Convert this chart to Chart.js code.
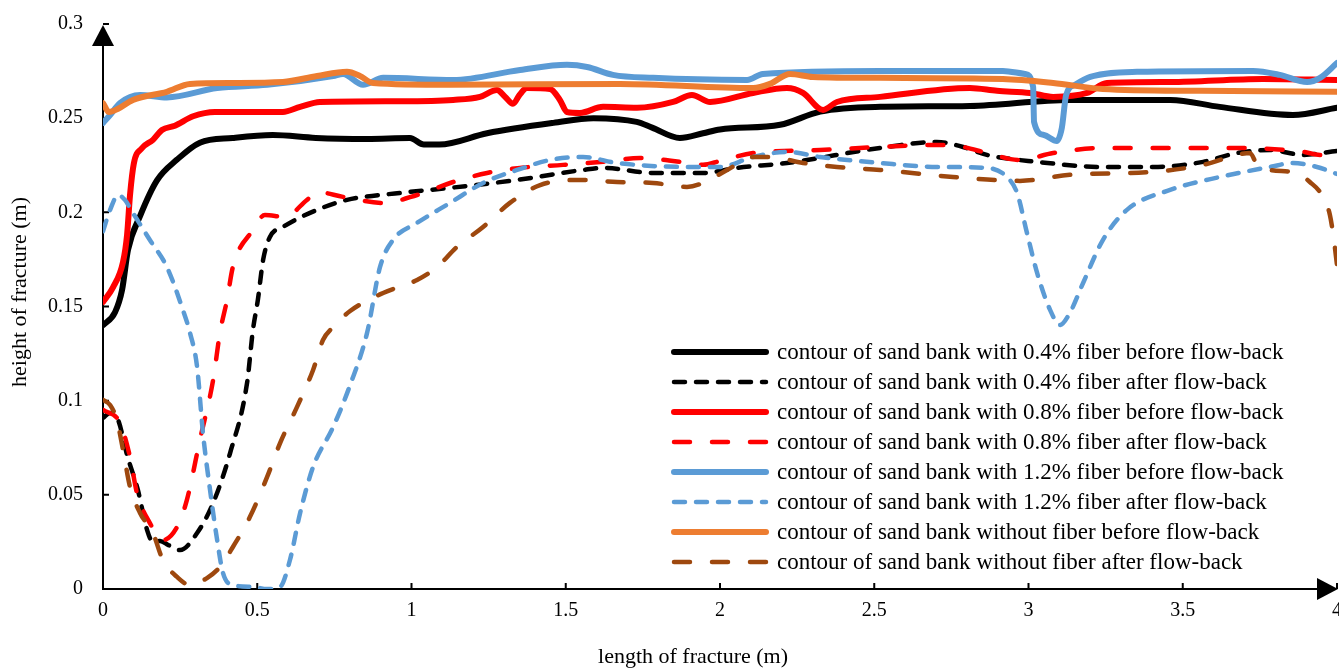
<!DOCTYPE html>
<html>
<head>
<meta charset="utf-8">
<script src="https://cdn.jsdelivr.net/npm/chart.js@4.4.1/dist/chart.umd.min.js"></script>
<style>
  html, body { margin: 0; padding: 0; background: #fff; }
  canvas { display: block; }
</style>
</head>
<body>
<canvas id="fractureChart" width="1339" height="668"></canvas>
<script>
// tick values and labels
const xTicks = [0, 0.5, 1, 1.5, 2, 2.5, 3, 3.5, 4]
const xTickLabels = ["0", "0.5", "1", "1.5", "2", "2.5", "3", "3.5", "4"]
const yTicks = [0, 0.05, 0.1, 0.15, 0.2, 0.25, 0.3]
const yTickLabels = ["0", "0.05", "0.1", "0.15", "0.2", "0.25", "0.3"]

const seriesLabels = [
  "contour of sand bank with 0.4% fiber before flow-back",
  "contour of sand bank with 0.4% fiber after flow-back",
  "contour of sand bank with 0.8% fiber before flow-back",
  "contour of sand bank with 0.8% fiber after flow-back",
  "contour of sand bank with 1.2% fiber before flow-back",
  "contour of sand bank with 1.2% fiber after flow-back",
  "contour of sand bank without fiber before flow-back",
  "contour of sand bank without fiber after flow-back"
]

// 0.4% fiber
const fiber04BeforeX = [0, 0.039, 0.062, 0.081, 0.12, 0.175, 0.24, 0.314, 0.42, 0.55, 0.69, 0.856, 0.995, 1.04, 1.09, 1.245, 1.46, 1.59, 1.73, 1.78, 1.87, 1.945, 2.0, 2.195, 2.325, 2.52, 2.81, 3.135, 3.46, 3.62, 3.857, 4.0]
const fiber04BeforeY = [0.140, 0.147, 0.159, 0.180, 0.198, 0.217, 0.228, 0.237, 0.2395, 0.241, 0.2395, 0.239, 0.2395, 0.236, 0.236, 0.242, 0.2475, 0.250, 0.248, 0.245, 0.2395, 0.242, 0.244, 0.2465, 0.2535, 0.256, 0.2565, 0.2597, 0.2597, 0.256, 0.2517, 0.2555]
const fiber04AfterX = [0, 0.023, 0.049, 0.078, 0.113, 0.143, 0.162, 0.185, 0.211, 0.25, 0.305, 0.357, 0.412, 0.467, 0.486, 0.502, 0.519, 0.541, 0.583, 0.694, 0.791, 0.963, 1.125, 1.342, 1.556, 1.621, 1.783, 1.945, 2.055, 2.217, 2.519, 2.703, 2.788, 2.865, 3.028, 3.241, 3.404, 3.566, 3.676, 3.783, 3.89, 4.0]
const fiber04AfterY = [0.0908, 0.0935, 0.0898, 0.0712, 0.0526, 0.0313, 0.025, 0.0255, 0.0234, 0.0207, 0.0297, 0.0457, 0.0722, 0.1094, 0.1375, 0.1535, 0.1747, 0.1869, 0.1922, 0.2013, 0.2066, 0.2103, 0.213, 0.2172, 0.2225, 0.2236, 0.2209, 0.2209, 0.2236, 0.2262, 0.2342, 0.2374, 0.2347, 0.2305, 0.2268, 0.2241, 0.2241, 0.2268, 0.2315, 0.2331, 0.2305, 0.2326]

// 0.8% fiber
const fiber08BeforeX = [0, 0.032, 0.065, 0.078, 0.0875, 0.10, 0.126, 0.162, 0.191, 0.233, 0.292, 0.363, 0.509, 0.583, 0.639, 0.703, 0.963, 1.135, 1.222, 1.277, 1.303, 1.329, 1.35, 1.374, 1.449, 1.481, 1.504, 1.546, 1.621, 1.731, 1.848, 1.909, 1.968, 2.107, 2.217, 2.269, 2.334, 2.379, 2.519, 2.81, 2.898, 3.005, 3.08, 3.19, 3.254, 3.459, 3.76, 4.0]
const fiber08BeforeY = [0.1524, 0.160, 0.1737, 0.188, 0.209, 0.226, 0.234, 0.2385, 0.2437, 0.246, 0.251, 0.2533, 0.2533, 0.2533, 0.256, 0.2586, 0.259, 0.2597, 0.2613, 0.265, 0.2614, 0.2576, 0.2623, 0.266, 0.2655, 0.2597, 0.2533, 0.2528, 0.256, 0.2555, 0.2586, 0.2623, 0.2586, 0.2634, 0.266, 0.2634, 0.2544, 0.2586, 0.2613, 0.266, 0.2645, 0.2634, 0.2613, 0.2634, 0.2687, 0.2692, 0.2708, 0.2703]
const fiber08AfterX = [0, 0.055, 0.0875, 0.110, 0.152, 0.194, 0.24, 0.272, 0.314, 0.357, 0.379, 0.402, 0.421, 0.486, 0.525, 0.59, 0.661, 0.694, 0.778, 0.908, 1.018, 1.135, 1.245, 1.352, 1.491, 1.621, 1.741, 1.87, 1.945, 2.0, 2.107, 2.324, 2.519, 2.703, 2.788, 2.865, 2.972, 3.08, 3.241, 3.676, 3.89, 3.945, 4.0]
const fiber08AfterY = [0.0951, 0.0882, 0.0701, 0.051, 0.035, 0.026, 0.0329, 0.0473, 0.0791, 0.111, 0.136, 0.1535, 0.171, 0.1906, 0.1986, 0.1976, 0.2066, 0.2108, 0.2082, 0.205, 0.2092, 0.2161, 0.2209, 0.2236, 0.2252, 0.2268, 0.2289, 0.2268, 0.2252, 0.2273, 0.2315, 0.2331, 0.2347, 0.2358, 0.2347, 0.2315, 0.2278, 0.2315, 0.2342, 0.2342, 0.2321, 0.2305, 0.2321]

// 1.2% fiber
const fiber12BeforeX = [0, 0.023, 0.055, 0.12, 0.207, 0.37, 0.532, 0.746, 0.778, 0.843, 0.908, 1.135, 1.352, 1.504, 1.569, 1.653, 1.783, 2.088, 2.139, 2.519, 2.917, 2.989, 3.015, 3.018, 3.05, 3.092, 3.108, 3.122, 3.151, 3.2, 3.352, 3.728, 3.815, 3.903, 3.945, 4.0]
const fiber12BeforeY = [0.2475, 0.2517, 0.258, 0.2623, 0.261, 0.266, 0.2677, 0.2724, 0.2735, 0.2677, 0.2714, 0.2703, 0.2756, 0.2783, 0.2772, 0.2730, 0.2714, 0.2703, 0.2735, 0.2751, 0.2751, 0.2735, 0.2666, 0.248, 0.2411, 0.2379, 0.2448, 0.2623, 0.2677, 0.2719, 0.2746, 0.2751, 0.273, 0.2692, 0.2714, 0.2793]
const fiber12AfterX = [0, 0.023, 0.049, 0.071, 0.097, 0.152, 0.207, 0.259, 0.282, 0.305, 0.324, 0.347, 0.37, 0.389, 0.421, 0.486, 0.532, 0.574, 0.606, 0.639, 0.681, 0.746, 0.801, 0.856, 0.898, 0.94, 1.018, 1.125, 1.232, 1.342, 1.449, 1.556, 1.666, 1.893, 2.0, 2.107, 2.217, 2.324, 2.519, 2.703, 2.865, 2.93, 2.963, 2.995, 3.028, 3.07, 3.102, 3.134, 3.177, 3.241, 3.319, 3.459, 3.621, 3.783, 3.857, 3.935, 4.0]
const fiber12AfterY = [0.190, 0.2013, 0.2092, 0.2066, 0.1997, 0.1853, 0.171, 0.1482, 0.136, 0.1179, 0.0828, 0.0526, 0.026, 0.0085, 0.0021, 0.0011, 0.0, 0.0011, 0.0154, 0.0404, 0.0648, 0.086, 0.1083, 0.136, 0.171, 0.1853, 0.1944, 0.205, 0.2156, 0.2225, 0.2278, 0.2294, 0.2262, 0.2241, 0.2241, 0.2294, 0.2321, 0.2294, 0.2262, 0.2241, 0.2236, 0.2188, 0.2103, 0.1891, 0.1678, 0.1482, 0.1402, 0.1466, 0.1625, 0.1853, 0.2013, 0.2119, 0.2188, 0.2241, 0.2262, 0.2241, 0.2204]

// without fiber
const noFiberBeforeX = [0, 0.019, 0.049, 0.097, 0.207, 0.282, 0.421, 0.583, 0.694, 0.791, 0.833, 0.875, 1.125, 1.676, 2.107, 2.162, 2.227, 2.301, 2.519, 2.917, 3.08, 3.241, 3.556, 4.0]
const noFiberBeforeY = [0.258, 0.2533, 0.255, 0.2597, 0.264, 0.2682, 0.2687, 0.2692, 0.2724, 0.2746, 0.2724, 0.2687, 0.2677, 0.2682, 0.266, 0.2682, 0.2735, 0.2719, 0.2714, 0.2708, 0.2687, 0.2655, 0.2645, 0.264]
const noFiberAfterX = [0, 0.023, 0.045, 0.065, 0.0875, 0.12, 0.162, 0.194, 0.24, 0.282, 0.337, 0.379, 0.421, 0.476, 0.532, 0.574, 0.629, 0.681, 0.713, 0.746, 0.801, 0.908, 1.018, 1.083, 1.147, 1.232, 1.319, 1.417, 1.556, 1.666, 1.783, 1.893, 1.945, 2.023, 2.107, 2.162, 2.269, 2.379, 2.519, 2.755, 2.972, 3.134, 3.404, 3.566, 3.676, 3.718, 3.741, 3.783, 3.87, 3.912, 3.951, 3.977, 3.99, 4.0]
const noFiberAfterY = [0.1004, 0.0977, 0.0897, 0.0738, 0.0542, 0.0404, 0.0297, 0.0154, 0.0064, 0.0021, 0.0058, 0.0117, 0.0223, 0.0382, 0.0595, 0.0775, 0.0967, 0.1163, 0.1322, 0.1391, 0.1476, 0.1572, 0.1641, 0.171, 0.1816, 0.1922, 0.205, 0.2145, 0.2172, 0.2161, 0.2156, 0.2135, 0.2156, 0.2225, 0.2294, 0.2294, 0.2262, 0.2241, 0.2225, 0.2188, 0.2167, 0.2199, 0.2215, 0.2252, 0.2305, 0.2315, 0.2252, 0.2225, 0.2209, 0.2161, 0.2092, 0.1986, 0.1853, 0.1721]

const serif = '"Liberation Serif", "Times New Roman", serif'

function toPoints(xs, ys) {
  return xs.map((x, i) => ({ x: x, y: ys[i] }))
}

function solid(i, color, xs, ys) {
  return { label: seriesLabels[i], data: toPoints(xs, ys), borderColor: color, borderWidth: 6, borderDash: [], order: 8 - i }
}

function dashed(i, color, dash, xs, ys) {
  return { label: seriesLabels[i], data: toPoints(xs, ys), borderColor: color, borderWidth: 4.5, borderDash: dash, order: 8 - i }
}

const datasets = [
  solid(0, "#000000", fiber04BeforeX, fiber04BeforeY),
  dashed(1, "#000000", [11, 11], fiber04AfterX, fiber04AfterY),
  solid(2, "#FF0000", fiber08BeforeX, fiber08BeforeY),
  dashed(3, "#FF0000", [16, 22], fiber08AfterX, fiber08AfterY),
  solid(4, "#5B9BD5", fiber12BeforeX, fiber12BeforeY),
  dashed(5, "#5B9BD5", [11, 11], fiber12AfterX, fiber12AfterY),
  solid(6, "#ED7D31", noFiberBeforeX, noFiberBeforeY),
  dashed(7, "#9E480E", [16, 22], noFiberAfterX, noFiberAfterY)
]

// axes with arrows, tick labels, titles and legend drawn by hand
const axesPlugin = {
  id: "arrowAxes",
  beforeDatasetsDraw(chart) {
    const ctx = chart.ctx
    const xs = chart.scales.x, ys = chart.scales.y
    const x0 = xs.getPixelForValue(0), y0 = ys.getPixelForValue(0)
    const top = ys.getPixelForValue(0.3)
    const right = chart.width
    ctx.save()
    ctx.strokeStyle = "#000"
    ctx.fillStyle = "#000"
    ctx.lineWidth = 2
    ctx.beginPath()
    ctx.moveTo(x0, y0 + 1)
    ctx.lineTo(x0, top + 10)
    ctx.moveTo(x0 - 1, y0)
    ctx.lineTo(right - 10, y0)
    yTicks.forEach(v => {
      const p = ys.getPixelForValue(v)
      ctx.moveTo(x0, p)
      ctx.lineTo(x0 + 6, p)
    })
    xTicks.forEach(v => {
      const p = xs.getPixelForValue(v)
      ctx.moveTo(p, y0)
      ctx.lineTo(p, y0 - 6)
    })
    ctx.stroke()

    ctx.beginPath()
    ctx.moveTo(x0, top + 1)
    ctx.lineTo(x0 - 11, top + 22)
    ctx.lineTo(x0 + 11, top + 22)
    ctx.closePath()
    ctx.fill()
    ctx.beginPath()
    ctx.moveTo(right - 1, y0)
    ctx.lineTo(right - 22, y0 - 11)
    ctx.lineTo(right - 22, y0 + 11)
    ctx.closePath()
    ctx.fill()
    ctx.restore()
  },
  afterDraw(chart) {
    const ctx = chart.ctx
    const xs = chart.scales.x, ys = chart.scales.y
    const x0 = xs.getPixelForValue(0), y0 = ys.getPixelForValue(0)
    ctx.save()
    ctx.fillStyle = "#000"
    ctx.font = "20px " + serif
    ctx.textBaseline = "middle"
    ctx.textAlign = "center"
    xTicks.forEach((v, i) => ctx.fillText(xTickLabels[i], xs.getPixelForValue(v), y0 + 22))
    ctx.textAlign = "right"
    yTicks.forEach((v, i) => ctx.fillText(yTickLabels[i], x0 - 20, ys.getPixelForValue(v)))

    ctx.font = "22px " + serif
    ctx.textAlign = "center"
    ctx.fillText("length of fracture (m)", 693, 657)
    ctx.save()
    ctx.translate(20, 292)
    ctx.rotate(-Math.PI / 2)
    ctx.fillText("height of fracture (m)", 0, 0)
    ctx.restore()

    // legend inside the plot
    ctx.font = "23px " + serif
    ctx.textAlign = "left"
    chart.data.datasets.forEach((ds, i) => {
      const y = 352 + i * 30
      ctx.save()
      ctx.strokeStyle = ds.borderColor
      ctx.lineWidth = ds.borderWidth
      ctx.lineCap = "round"
      ctx.setLineDash(ds.borderDash)
      ctx.beginPath()
      ctx.moveTo(674, y)
      ctx.lineTo(766, y)
      ctx.stroke()
      ctx.restore()
      ctx.fillText(ds.label, 777, y + 1)
    })
    ctx.restore()
  }
}

const ctx = document.getElementById("fractureChart")

new Chart(ctx, {
  type: "line",
  data: { datasets: datasets },
  options: {
    responsive: false,
    animation: false,
    devicePixelRatio: 1,
    layout: { padding: { left: 103, right: 2, top: 24, bottom: 79 } },
    elements: {
      point: { radius: 0 },
      line: { cubicInterpolationMode: "monotone", borderCapStyle: "round", borderJoinStyle: "round", fill: false }
    },
    plugins: {
      legend: { display: false },
      tooltip: { enabled: false }
    },
    scales: {
      x: { type: "linear", min: 0, max: 4, display: false },
      y: { min: 0, max: 0.3, display: false }
    }
  },
  plugins: [axesPlugin]
})
</script>
</body>
</html>
